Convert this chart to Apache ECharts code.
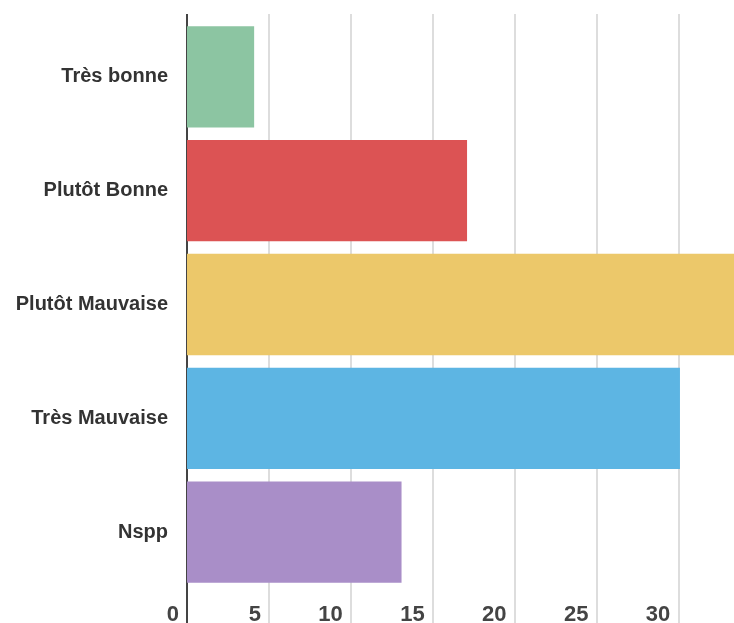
<!DOCTYPE html>
<html>
<head>
<meta charset="utf-8">
<script src="https://cdn.jsdelivr.net/npm/echarts@6/dist/echarts.min.js"></script>
<style>html,body{margin:0;padding:0;background:#fff}#c{width:734px;height:623px}</style>
</head>
<body>
<div id="c"></div>
<script>
const categories = ['Très bonne', 'Plutôt Bonne', 'Plutôt Mauvaise', 'Très Mauvaise', 'Nspp'];
const values = [4.1, 17.1, 35, 30.1, 13.1];
const barColors = ['#8cc5a2', '#dc5354', '#ecc86a', '#5db5e3', '#a98ec8'];
const xTicks = [0, 5, 10, 15, 20, 25, 30];

const chart = echarts.init(document.getElementById('c'), null, {renderer: 'canvas'});
const hiddenAxis = (pos, len, vals, color, width) => ({
  type: 'value', min: 0, max: 33.4, interval: 5, position: pos,
  axisLine: {show: false},
  axisTick: {show: true, length: len, customValues: vals, lineStyle: {color: color, width: width}},
  splitLine: {show: false},
  axisLabel: {show: false}
});
chart.setOption({
  backgroundColor: '#fff',
  animation: false,
  grid: {left: 187, right: 0, top: 20, bottom: 34, containLabel: false, outerBoundsMode: 'none'},
  xAxis: [{
    type: 'value', min: 0, max: 33.4, interval: 5, position: 'bottom',
    axisLine: {show: false},
    axisTick: {show: true, length: 35, customValues: xTicks.slice(1), lineStyle: {color: '#d2d2d2', width: 1.5}},
    splitLine: {show: true, lineStyle: {color: '#d2d2d2', width: 1.5}},
    axisLabel: {
      customValues: xTicks, margin: 15, align: 'right', padding: [0, 8, 0, 0],
      fontFamily: 'Liberation Sans', fontWeight: 'bold', fontSize: 22, color: '#444'
    }
  },
  hiddenAxis('top', 6, xTicks.slice(1), '#d2d2d2', 1.5),
  hiddenAxis('bottom', 35, [0], '#444', 2),
  hiddenAxis('top', 6, [0], '#444', 2)
  ],
  yAxis: {
    type: 'category', data: categories, inverse: true,
    axisLine: {show: true, lineStyle: {color: '#444', width: 2}},
    axisTick: {show: false},
    axisLabel: {margin: 19, fontFamily: 'Liberation Sans', fontWeight: 'bold', fontSize: 20, color: '#333'}
  },
  series: [{
    type: 'bar', xAxisIndex: 0,
    data: values.map((v, i) => ({value: v, itemStyle: {color: barColors[i]}})),
    barCategoryGap: '11%', clip: true
  }]
});
</script>
</body>
</html>
